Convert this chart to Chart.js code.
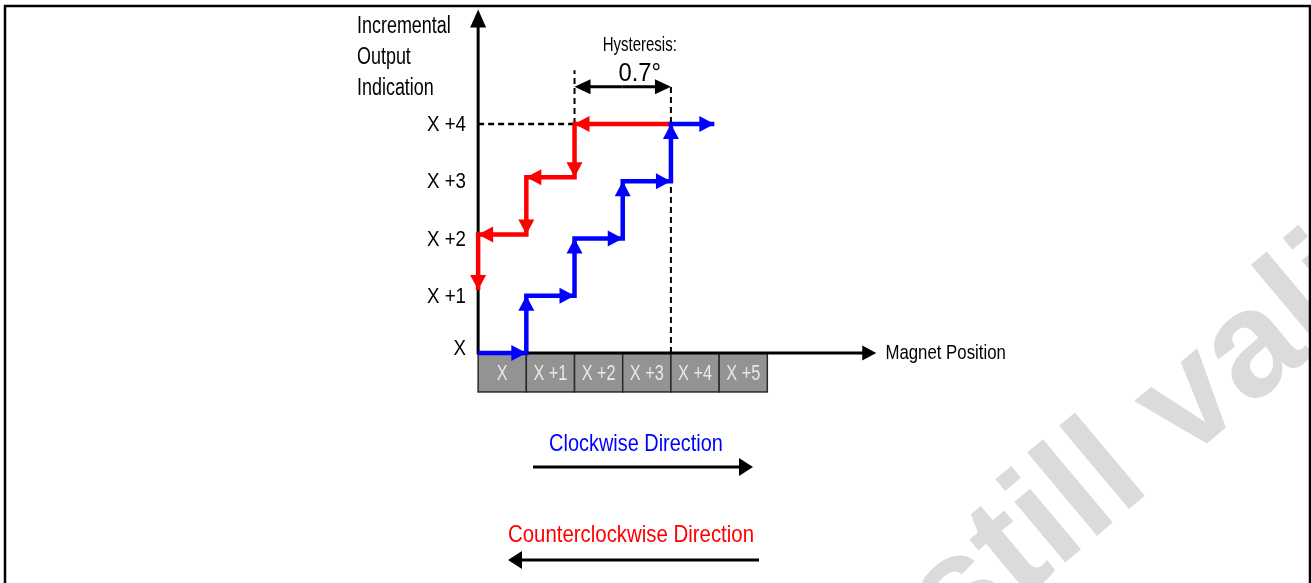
<!DOCTYPE html>
<html>
<head>
<meta charset="utf-8">
<title>Incremental output hysteresis</title>
<script src="https://cdn.jsdelivr.net/npm/chart.js@4"></script>
<style>
  html, body { margin: 0; padding: 0; background: #fff; }
  #hysteresisChart { display: block; }
</style>
</head>
<body>
<canvas id="hysteresisChart" width="1311" height="583"></canvas>
<script>
// Magnet position boxes under the x axis
const positionLabels = ['X', 'X +1', 'X +2', 'X +3', 'X +4', 'X +5'];

// Output levels on the y axis
const outputLabels = ['X', 'X +1', 'X +2', 'X +3', 'X +4'];
const outputLevels = [0, 1, 2, 3, 4];

// Clockwise path (blue) : magnet position / output level
const cwPosition = [0, 1, 1, 2, 2, 3, 3, 4, 4, 4.9];
const cwOutput = [0, 0, 1, 1, 2, 2, 3, 3, 4, 4];

// Counterclockwise path (red)
const ccwPosition = [4, 2, 2, 1, 1, 0, 0];
const ccwOutput = [4, 4, 3.07, 3.07, 2.07, 2.07, 1.1];

// Hysteresis span
const hysteresisFrom = 2;
const hysteresisTo = 4;
const hysteresisText = '0.7°';

const FONT = '"Liberation Sans", Arial, sans-serif';

function toPoints(xs, ys) {
  return xs.map((x, i) => ({ x: x, y: ys[i] }));
}

function arrowHead(ctx, x1, y1, x2, y2, len, half, color) {
  const a = Math.atan2(y2 - y1, x2 - x1);
  ctx.save();
  ctx.translate(x2, y2);
  ctx.rotate(a);
  ctx.beginPath();
  ctx.moveTo(0, 0);
  ctx.lineTo(-len, -half);
  ctx.lineTo(-len, half);
  ctx.closePath();
  ctx.fillStyle = color;
  ctx.fill();
  ctx.restore();
}

function arrow(ctx, x1, y1, x2, y2, width, len, half, color) {
  const a = Math.atan2(y2 - y1, x2 - x1);
  ctx.save();
  ctx.strokeStyle = color;
  ctx.lineWidth = width;
  ctx.beginPath();
  ctx.moveTo(x1, y1);
  ctx.lineTo(x2 - Math.cos(a) * (len - 2), y2 - Math.sin(a) * (len - 2));
  ctx.stroke();
  ctx.restore();
  arrowHead(ctx, x1, y1, x2, y2, len, half, color);
}

function dashed(ctx, x1, y1, x2, y2, width) {
  ctx.save();
  ctx.strokeStyle = '#000';
  ctx.lineWidth = width;
  ctx.setLineDash([6, 4]);
  ctx.beginPath();
  ctx.moveTo(x1, y1);
  ctx.lineTo(x2, y2);
  ctx.stroke();
  ctx.restore();
}

// condensed text (the source uses a narrow face)
function text(ctx, str, x, y, size, color, align, sx) {
  ctx.save();
  ctx.translate(x, y);
  ctx.scale(sx || 0.8, 1);
  ctx.font = size + 'px ' + FONT;
  ctx.fillStyle = color;
  ctx.textAlign = align || 'center';
  ctx.textBaseline = 'middle';
  ctx.fillText(str, 0, 0);
  ctx.restore();
}

// frame, watermark, axes, boxes, guides and texts
const diagramPlugin = {
  id: 'diagram',
  beforeDraw(chart) {
    const ctx = chart.ctx;
    ctx.save();
    ctx.fillStyle = '#fff';
    ctx.fillRect(0, 0, chart.width, chart.height);

    // watermark
    ctx.font = 'bold 150px ' + FONT;
    ctx.fillStyle = '#dbdbdb';
    ctx.translate(955, 655);
    ctx.rotate(-40 * Math.PI / 180);
    const lead = ctx.measureText('Technical content ').width;
    ctx.fillText('Technical content still valid', -lead, 0);
    ctx.restore();

    // frame
    ctx.save();
    ctx.strokeStyle = '#000';
    ctx.lineWidth = 2.5;
    ctx.beginPath();
    ctx.moveTo(5, chart.height);
    ctx.lineTo(5, 6);
    ctx.lineTo(1310, 6);
    ctx.lineTo(1310, chart.height);
    ctx.stroke();
    ctx.restore();
  },
  beforeDatasetsDraw(chart) {
    const ctx = chart.ctx;
    const sx = chart.scales.x;
    const sy = chart.scales.y;
    const px = (v) => sx.getPixelForValue(v);
    const py = (v) => sy.getPixelForValue(v);

    // magnet position boxes
    positionLabels.forEach((lab, i) => {
      const x0 = px(i), x1 = px(i + 1);
      const y0 = py(0), y1 = py(-0.68);
      ctx.save();
      ctx.fillStyle = '#939393';
      ctx.fillRect(x0, y0, x1 - x0, y1 - y0);
      ctx.strokeStyle = '#2a2a2a';
      ctx.lineWidth = 1.5;
      ctx.strokeRect(x0, y0, x1 - x0, y1 - y0);
      ctx.restore();
      text(ctx, lab, (x0 + x1) / 2, (y0 + y1) / 2 + 1, 22, '#e8e8e8', 'center', 0.74);
    });

    // dashed guides
    dashed(ctx, px(0), py(4), px(hysteresisFrom), py(4), 2.5);
    dashed(ctx, px(hysteresisFrom), py(4), px(hysteresisFrom), py(4.94), 2);
    dashed(ctx, px(hysteresisTo), py(0), px(hysteresisTo), py(4.7), 2);

    // axes
    arrow(ctx, px(0), py(0) + 1.5, px(0), py(6.0), 3, 18, 8, '#000');
    arrow(ctx, px(0), py(0), px(8.26), py(0), 3, 14, 7.5, '#000');

    // hysteresis double arrow
    const hy = py(4.65);
    const mid = (px(hysteresisFrom) + px(hysteresisTo)) / 2;
    arrow(ctx, mid, hy, px(hysteresisTo), hy, 3, 16, 7.5, '#000');
    arrow(ctx, mid, hy, px(hysteresisFrom), hy, 3, 16, 7.5, '#000');
  },
  afterDatasetsDraw(chart) {
    const ctx = chart.ctx;
    chart.data.datasets.forEach((ds, i) => {
      const pts = chart.getDatasetMeta(i).data;
      for (let k = 1; k < pts.length; k++) {
        arrowHead(ctx, pts[k - 1].x, pts[k - 1].y, pts[k].x, pts[k].y, 15, 8, ds.borderColor);
      }
    });
  },
  afterDraw(chart) {
    const ctx = chart.ctx;
    const sx = chart.scales.x;
    const sy = chart.scales.y;
    const px = (v) => sx.getPixelForValue(v);
    const py = (v) => sy.getPixelForValue(v);

    // y axis title
    ['Incremental', 'Output', 'Indication'].forEach((line, i) => {
      text(ctx, line, 357, 27 + i * 31, 23, '#000', 'left', 0.78);
    });

    // y tick labels
    outputLevels.forEach((lv, i) => {
      const off = lv === 0 ? -4 : 1;
      text(ctx, outputLabels[i], 466, py(lv) + off, 22, '#000', 'right', 0.85);
    });

    text(ctx, 'Magnet Position', px(8.45), py(0), 21, '#000', 'left', 0.8);

    const mid = (px(hysteresisFrom) + px(hysteresisTo)) / 2;
    text(ctx, 'Hysteresis:', mid + 17, 45, 20, '#000', 'center', 0.75);
    text(ctx, hysteresisText, mid + 17, 74, 25, '#000', 'center', 0.95);

    // direction legend
    text(ctx, 'Clockwise Direction', 636, 444, 24, '#0000ff', 'center', 0.83);
    arrow(ctx, 533, 467, 753, 467, 3, 14, 9, '#000');
    text(ctx, 'Counterclockwise Direction', 631, 535, 24, '#ff0000', 'center', 0.85);
    arrow(ctx, 759, 560, 508, 560, 3, 14, 9, '#000');
  }
};

new Chart(document.getElementById('hysteresisChart'), {
  type: 'scatter',
  data: {
    datasets: [
      {
        label: 'Counterclockwise Direction',
        data: toPoints(ccwPosition, ccwOutput),
        showLine: true,
        borderColor: '#ff0000',
        borderWidth: 4.5,
        pointRadius: 0,
        borderJoinStyle: 'miter',
        order: 2,
      },
      {
        label: 'Clockwise Direction',
        data: toPoints(cwPosition, cwOutput),
        showLine: true,
        borderColor: '#0000ff',
        borderWidth: 4.5,
        pointRadius: 0,
        borderJoinStyle: 'miter',
        order: 1,
      },
    ],
  },
  options: {
    responsive: false,
    animation: false,
    devicePixelRatio: 1,
    layout: { padding: 0 },
    plugins: {
      legend: { display: false },
      tooltip: { enabled: false },
    },
    scales: {
      x: { type: 'linear', display: false, min: -9.92, max: 17.28 },
      y: { type: 'linear', display: false, min: -4.017, max: 6.166 },
    },
  },
  plugins: [diagramPlugin],
});
</script>
</body>
</html>
